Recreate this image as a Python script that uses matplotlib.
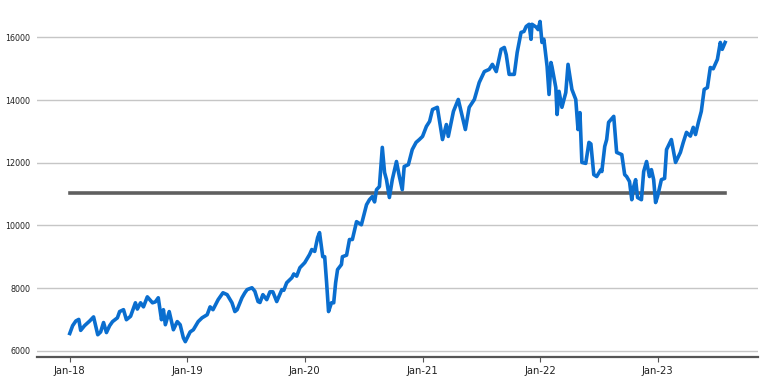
import matplotlib
matplotlib.use("Agg")
import matplotlib.pyplot as plt
import matplotlib.dates as mdates
import pandas as pd

dates = [
    "2018-01-01", "2018-01-10", "2018-01-20", "2018-01-29", "2018-02-04", "2018-02-16", "2018-03-04", "2018-03-16",
    "2018-03-29", "2018-04-07", "2018-04-16", "2018-04-25", "2018-05-05", "2018-05-14", "2018-05-29", "2018-06-05",
    "2018-06-17", "2018-06-26", "2018-07-09", "2018-07-24", "2018-07-30", "2018-08-09", "2018-08-18", "2018-08-30",
    "2018-09-15", "2018-09-24", "2018-10-03", "2018-10-13", "2018-10-19", "2018-10-25", "2018-11-06", "2018-11-19",
    "2018-12-01", "2018-12-10", "2018-12-20", "2018-12-26",
    "2019-01-10", "2019-01-20", "2019-02-04", "2019-02-16", "2019-03-04", "2019-03-13", "2019-03-22", "2019-04-07",
    "2019-04-22", "2019-05-05", "2019-05-20", "2019-05-29", "2019-06-05", "2019-06-20", "2019-06-29", "2019-07-06",
    "2019-07-21", "2019-07-30", "2019-08-09", "2019-08-15", "2019-08-24", "2019-09-05", "2019-09-15", "2019-09-24",
    "2019-10-06", "2019-10-22", "2019-10-28", "2019-11-06", "2019-11-22", "2019-11-28", "2019-12-07", "2019-12-17",
    "2020-01-01", "2020-01-16", "2020-01-23", "2020-02-01", "2020-02-10", "2020-02-16", "2020-02-26", "2020-03-03",
    "2020-03-09", "2020-03-15", "2020-03-24", "2020-03-31", "2020-04-06", "2020-04-12", "2020-04-24", "2020-04-27",
    "2020-05-10", "2020-05-19", "2020-05-28", "2020-06-10", "2020-06-25", "2020-07-11", "2020-07-20", "2020-07-29",
    "2020-08-05", "2020-08-11", "2020-08-20", "2020-08-29", "2020-09-05", "2020-09-11", "2020-09-20", "2020-09-29",
    "2020-10-12", "2020-10-21", "2020-10-30", "2020-11-05", "2020-11-18", "2020-11-30", "2020-12-12", "2020-12-22",
    "2021-01-01", "2021-01-13", "2021-01-23", "2021-02-01", "2021-02-16", "2021-03-04", "2021-03-16", "2021-03-22",
    "2021-04-07", "2021-04-22", "2021-05-14", "2021-05-26", "2021-06-11", "2021-06-26", "2021-07-12", "2021-07-27",
    "2021-08-06", "2021-08-18", "2021-09-02", "2021-09-12", "2021-09-18", "2021-09-27", "2021-10-13", "2021-10-22",
    "2021-11-03", "2021-11-12", "2021-11-19", "2021-11-28", "2021-12-04", "2021-12-07", "2021-12-20", "2021-12-26",
    "2022-01-01", "2022-01-07", "2022-01-13", "2022-01-23", "2022-01-29", "2022-02-04", "2022-02-07", "2022-02-19",
    "2022-02-23", "2022-03-01", "2022-03-10", "2022-03-22", "2022-03-29", "2022-04-10", "2022-04-22", "2022-04-29",
    "2022-05-05", "2022-05-11", "2022-05-23", "2022-06-02", "2022-06-08", "2022-06-17", "2022-06-26", "2022-07-09",
    "2022-07-12", "2022-07-21", "2022-07-27", "2022-08-02", "2022-08-18", "2022-08-27", "2022-09-12", "2022-09-21",
    "2022-09-27", "2022-10-06", "2022-10-13", "2022-10-19", "2022-10-25", "2022-10-31", "2022-11-12", "2022-11-19",
    "2022-11-28", "2022-12-07", "2022-12-13", "2022-12-20", "2022-12-26",
    "2023-01-01", "2023-01-13", "2023-01-23", "2023-01-29", "2023-02-13", "2023-02-26", "2023-03-13", "2023-03-22",
    "2023-04-01", "2023-04-13", "2023-04-22", "2023-04-29", "2023-05-08", "2023-05-17", "2023-05-26", "2023-06-05",
    "2023-06-14", "2023-06-23", "2023-07-06", "2023-07-15", "2023-07-21", "2023-07-30",
]

values = [
    6550, 6800, 6950, 7000, 6650, 6800, 6950, 7080,
    6510, 6600, 6900, 6580, 6800, 6930, 7050, 7250,
    7310, 6990, 7100, 7530, 7330, 7530, 7400, 7720,
    7530, 7560, 7690, 6990, 7310, 6830, 7250, 6670,
    6930, 6830, 6410, 6290,
    6600, 6670, 6930, 7050, 7150, 7400, 7310, 7630,
    7850, 7790, 7530, 7250, 7310, 7690, 7850, 7950,
    8010, 7900, 7570, 7540, 7790, 7630, 7880, 7880,
    7570, 7950, 7930, 8170, 8330, 8450, 8380, 8650,
    8810, 9070, 9230, 9170, 9610, 9770, 9000, 9000,
    8170, 7250, 7530, 7530, 8170, 8590, 8750, 9000,
    9050, 9550, 9550, 10120, 10020, 10660, 10820, 10920,
    10750, 11140, 11240, 12490, 11690, 11460, 10890, 11460,
    12040, 11560, 11140, 11880, 11940, 12420, 12650, 12740,
    12840, 13160, 13320, 13700, 13770, 12740, 13220, 12840,
    13640, 14020, 13060, 13770, 14020, 14560, 14910, 14980,
    15140, 14910, 15620, 15680, 15450, 14820, 14820, 15520,
    16160, 16190, 16350, 16420, 15940, 16420, 16330, 16250,
    16510, 15840, 15940, 15070, 14180, 15200, 15070, 14400,
    13540, 14280, 13770, 14240, 15140, 14340, 14020, 13060,
    13600, 12010, 11980, 12650, 12600, 11620, 11560, 11780,
    11720, 12520, 12740, 13290, 13480, 12330, 12260, 11620,
    11560, 11400, 10820, 11240, 11460, 10890, 10820, 11720,
    12040, 11560, 11780, 11460, 10730,
    10920, 11460, 11500, 12420, 12740, 12010, 12330, 12650,
    12970, 12850, 13130, 12900, 13290, 13640, 14340, 14400,
    15040, 15000, 15300, 15840, 15620, 15840,
]

reference_level = 11050
y_ticks = [6000, 8000, 10000, 12000, 14000, 16000]

x = pd.to_datetime(dates)

fig = plt.figure(figsize=(7.64, 3.81), dpi=100)
ax = fig.add_axes([0.0484, 0.063, 0.9436, 0.921])

ax.plot(x, values, color="#0A6ECF", lw=2.6, solid_joinstyle="round", zorder=3)
ax.plot([x[0], x[-1]], [reference_level, reference_level], color="#5f5f5f", lw=2.6, zorder=2)

ax.set_ylim(5800, 17000)
ax.set_yticks(y_ticks)
ax.yaxis.grid(True, color="#c6c6c6", lw=1.0)
ax.set_axisbelow(True)

ax.xaxis.set_major_locator(mdates.YearLocator())
ax.xaxis.set_major_formatter(mdates.DateFormatter("%b-%y"))

for s in ["top", "right", "left"]:
    ax.spines[s].set_visible(False)
ax.spines["bottom"].set_color("#555555")
ax.spines["bottom"].set_linewidth(1.6)

ax.tick_params(axis="y", length=0, labelsize=5.8, colors="#222222", pad=5)
ax.tick_params(axis="x", length=3.5, width=0.8, color="#555555", labelsize=7.2, labelcolor="#222222", pad=3)

fig.savefig("out.png", dpi=100)
